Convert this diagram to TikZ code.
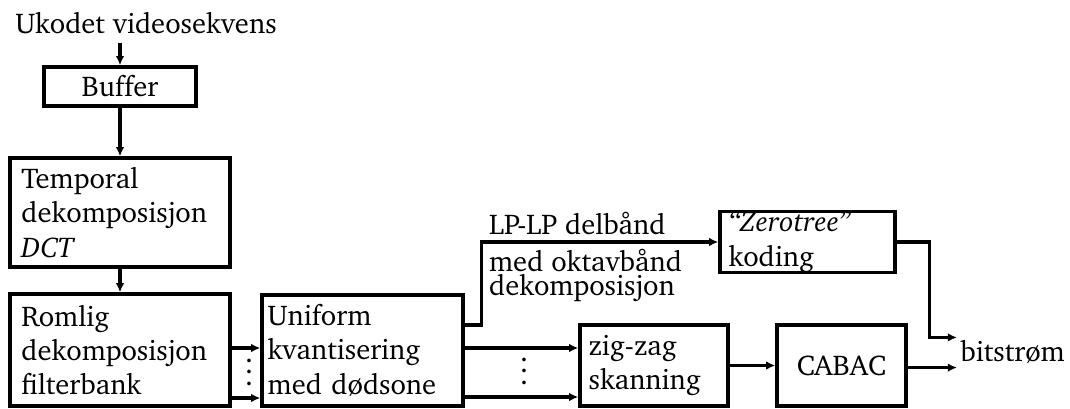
\documentclass[tikz,border=0pt]{standalone}
\usepackage[T1]{fontenc}
\usepackage{charter}
\usetikzlibrary{arrows.meta}
\tikzset{
  blokk/.style={draw,very thick,align=left,inner xsep=4pt,inner ysep=0pt},
  pil/.style={very thick,->},
}
\begin{document}
\begin{tikzpicture}[x=0.35pt,y=-0.35pt,>={Latex[length=3.2pt,width=3pt]}]
\def\U{0.35pt}
\useasboundingbox (0,0) rectangle (1070,408);
% blokker
\node[anchor=base] (src) at (146,33) {Ukodet videosekvens};
\node[blokk,align=center,minimum width=152*\U,minimum height=39*\U] (buf) at (120,86.5) {Buffer};
\node[blokk,text width=220*\U-8pt,minimum height=109*\U] (temp) at (120,212.5)
  {Temporal\\dekomposisjon\\\textit{DCT}};
\node[blokk,text width=220*\U-8pt,minimum height=112*\U] (rom) at (120,350)
  {Romlig\\dekomposisjon\\filterbank};
\node[blokk,inner xsep=2pt,text width=201*\U-4pt,minimum height=111*\U] (uni) at (362.5,350.5)
  {Uniform\\kvantisering\\med dødsone};
\node[blokk,inner xsep=3pt,text width=148*\U-6pt,minimum height=81*\U] (zz) at (654,365.5)
  {zig-zag\\skanning};
\node[blokk,align=center,minimum width=129*\U,minimum height=81*\U] (cab) at (841.5,365.5) {CABAC};
\node[blokk,inner xsep=3pt,text width=175*\U-6pt,minimum height=60*\U] (zt) at (807.5,242)
  {\textit{``Zerotree''}\\koding};
\node[anchor=west,inner xsep=1pt,inner ysep=0pt,minimum height=29*\U] (bit) at (957,352.5) {bitstrøm};
\node[inner sep=0pt] (pt1) at (249,364) {$\vdots$};
\node[inner sep=0pt] (pt2) at (524,363) {$\vdots$};
% piler
\draw[pil] (buf.north |- src.south) -- (buf.north);
\draw[pil] (buf.south) -- (temp.north);
\draw[pil] (temp.south) -- (rom.north);
\draw[pil] ([yshift=2*\U]rom.east) -- ([yshift=2*\U]rom.east -| uni.west);
\draw[pil] ([yshift=-48*\U]rom.east) -- ([yshift=-48*\U]rom.east -| uni.west);
\draw[pil] ([yshift=2.5*\U]uni.east) -- ([yshift=2.5*\U]uni.east -| zz.west);
\draw[pil] ([yshift=-46.5*\U]uni.east) -- ([yshift=-46.5*\U]uni.east -| zz.west);
\draw[pil] ([yshift=25.5*\U]uni.east) -- ++(17,0)
  |- node[pos=.5,anchor=south west,inner sep=2pt] (lp) {LP-LP delbånd}
     node[pos=.5,anchor=north west,inner sep=2pt,align=left] (okt) {med oktavbånd\\[-3.5pt]dekomposisjon}
  (zt.west);
\draw[pil] (zz.east) -- (cab.west);
\draw[pil] (zt.east) -- ++(33,0) |- (bit.north west);
\draw[pil] (cab.east |- bit.south west) -- (bit.south west);
\end{tikzpicture}
\end{document}
